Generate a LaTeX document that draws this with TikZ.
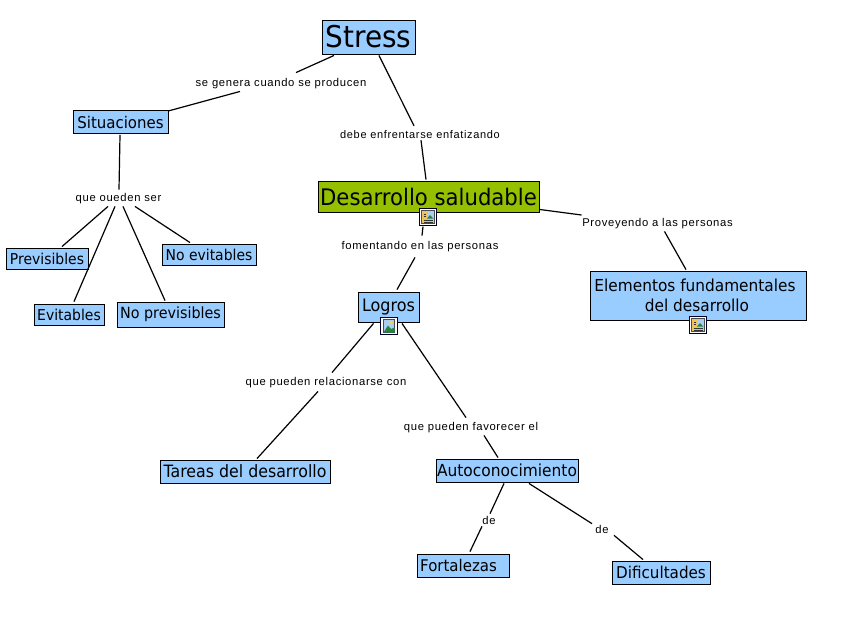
\documentclass[tikz,border=0pt]{standalone}
\usepackage{fontspec}
\setmainfont[FakeStretch=0.93]{DejaVu Sans}
\newfontfamily\lblfont[LetterSpace=6]{Liberation Sans}
\tikzset{
  x=1pt,y=-1pt,
  concept/.style={draw=black,line width=0.9pt,fill=#1,inner sep=0pt,anchor=center,align=center,text=black},
  concept/.default=cblue,
  lbl/.style={inner sep=0pt,font=\lblfont\fontsize{11.25}{13}\selectfont,text=black},
  link/.style={draw=black,line width=1.2pt},
  iconbox/.style={draw=black!85!blue,fill=white,line width=1.2pt,minimum size=17pt,inner sep=0pt}
}
\definecolor{cblue}{RGB}{153,204,255}
\definecolor{cgreen}{RGB}{148,192,0}
\definecolor{cdoc}{RGB}{240,195,90}
\definecolor{csky}{RGB}{170,205,240}
\definecolor{chill}{RGB}{40,130,70}
\definecolor{csun}{RGB}{245,215,70}
\newcommand{\docicon}[2]{%
  \node[iconbox] (#1) at (#2) {};
  \fill[cdoc,draw=black!70,line width=.4pt] ([shift={(-6.5,-6.5)}]#1.center) rectangle ([shift={(6.5,6.5)}]#1.center);
  \fill[csky] ([shift={(-1,-5.5)}]#1.center) rectangle ([shift={(5.5,1.5)}]#1.center);
  \fill[chill] ([shift={(-1,1.5)}]#1.center) -- ([shift={(2,-2)}]#1.center) -- ([shift={(5.5,1.5)}]#1.center) -- cycle;
  \draw[black!80,line width=.6pt] ([shift={(-4.5,-3)}]#1.center) -- ([shift={(-2.5,-3)}]#1.center)
     ([shift={(-4.5,-0.5)}]#1.center) -- ([shift={(-2.5,-0.5)}]#1.center)
     ([shift={(-4.5,3)}]#1.center) -- ([shift={(4.5,3)}]#1.center)
     ([shift={(-4.5,5)}]#1.center) -- ([shift={(4.5,5)}]#1.center);
}
\newcommand{\picicon}[2]{%
  \node[iconbox] (#1) at (#2) {};
  \fill[csky,draw=black!70,line width=.4pt] ([shift={(-5.5,-6.5)}]#1.center) rectangle ([shift={(5.5,6.5)}]#1.center);
  \fill[chill] ([shift={(-5.5,6.5)}]#1.center) -- ([shift={(-1,-0.5)}]#1.center) -- ([shift={(2,3)}]#1.center) -- ([shift={(5.5,1.5)}]#1.center) -- ([shift={(5.5,6.5)}]#1.center) -- cycle;
  \fill[csun] ([shift={(2,-3.5)}]#1.center) circle (1.8pt);
}
\begin{document}
\begin{tikzpicture}
\useasboundingbox (0,0) rectangle (846,625);
\fill[white] (0,0) rectangle (846,625);
% concepts
\node[concept,minimum width=93pt,minimum height=34pt,font=\fontsize{30}{32}\selectfont] (stress) at (368.5,37) {\raisebox{-1pt}{Stress}};
\node[concept,minimum width=95pt,minimum height=23pt,font=\fontsize{16.1}{18}\selectfont] (sit) at (120.5,122) {\raisebox{-.5pt}{Situaciones}};
\node[concept=cgreen,minimum width=221pt,minimum height=31pt,font=\fontsize{22.8}{26}\selectfont] (des) at (428.5,196.5) {Desarrollo saludable};
\node[concept,minimum width=61pt,minimum height=30pt,font=\fontsize{17.2}{18}\selectfont] (log) at (388.5,307) {\raisebox{-.5pt}{Logros}};
\node[concept,minimum width=216pt,minimum height=49pt,font=\fontsize{16.5}{20.5}\selectfont] (ele) at (698,295.5) {Elementos fundamentales\kern6pt\\\kern-2pt del desarrollo};
\node[concept,minimum width=82pt,minimum height=21pt,font=\fontsize{15}{18}\selectfont] (pre) at (47,258.5) {\raisebox{-.5pt}{Previsibles}};
\node[concept,minimum width=70pt,minimum height=21pt,font=\fontsize{15}{18}\selectfont] (evi) at (69,314.5) {\raisebox{-.5pt}{Evitables}};
\node[concept,minimum width=107pt,minimum height=25pt,font=\fontsize{15.4}{18}\selectfont] (nop) at (170.5,314.5) {\raisebox{.5pt}{No previsibles}};
\node[concept,minimum width=94pt,minimum height=21pt,font=\fontsize{15}{18}\selectfont] (noe) at (209,254.5) {No evitables};
\node[concept,minimum width=170pt,minimum height=23pt,font=\fontsize{17}{18}\selectfont] (tar) at (245,471.5) {Tareas del desarrollo};
\node[concept,minimum width=142pt,minimum height=23pt,font=\fontsize{16.6}{18}\selectfont] (aut) at (507,470.5) {Autoconocimiento};
\node[concept,minimum width=92pt,minimum height=23pt,font=\fontsize{16.1}{18}\selectfont] (for) at (463,565.5) {Fortalezas\kern9pt};
\node[concept,minimum width=98pt,minimum height=23pt,font=\fontsize{16.3}{18}\selectfont] (dif) at (661,572.5) {Dificultades};
% icons
\docicon{ic1}{428,217}
\picicon{ic2}{389,326}
\docicon{ic3}{698,325}
% linking phrases
\node[lbl] (l1) at (281,84) {se genera cuando se producen};
\node[lbl,font=\lblfont\fontsize{11}{13}\selectfont] (l2) at (420,135) {debe enfrentarse enfatizando};
\node[lbl] (l3) at (118.5,199) {que oueden ser};
\node[lbl] (l4) at (420,247) {fomentando en las personas};
\node[lbl] (l5) at (657.5,224) {Proveyendo a las personas};
\node[lbl] (l6) at (326,383) {que pueden relacionarse con};
\node[lbl] (l7) at (471,428) {que pueden favorecer el};
\node[lbl] (l8) at (489,520) {de};
\node[lbl] (l9) at (602,529) {de};
% connectors
\draw[link] ([shift={(-34.5,1)}]stress.south) -- ([shift={(15,-6)}]l1.north);
\draw[link] ([shift={(-41,2)}]l1.south) -- ([shift={(47.5,1)}]sit.north);
\draw[link] ([shift={(10.5,1)}]stress.south) -- ([shift={(-6,-5)}]l2.north);
\draw[link] ([shift={(1,1)}]l2.south) -- ([shift={(-2.5,-1)}]des.north);
\draw[link] ([shift={(-5,0.5)}]ic1.south) -- ([shift={(2,-6)}]l4.north);
\draw[link] ([shift={(-5,5)}]l4.south) -- ([shift={(8.5,-2)}]log.north);
\draw[link] ([shift={(0,-3)}]des.south east) -- ([shift={(-0.5,-9)}]l5.west);
\draw[link] ([shift={(7,2)}]l5.south) -- ([shift={(-12,-1)}]ele.north);
\draw[link] ([shift={(-0.5,1)}]sit.south) -- ([shift={(0.5,-4)}]l3.north);
\draw[link] ([shift={(-10.5,2)}]l3.south) -- ([shift={(15,-1)}]pre.north);
\draw[link] ([shift={(-3.5,2)}]l3.south) -- ([shift={(5,-2)}]evi.north);
\draw[link] ([shift={(4.5,2)}]l3.south) -- ([shift={(-5.5,-1)}]nop.north);
\draw[link] ([shift={(16.5,2)}]l3.south) -- ([shift={(-19,-1)}]noe.north);
\draw[link] ([shift={(-15,1)}]log.south) -- ([shift={(6,-5)}]l6.north);
\draw[link] ([shift={(-8,3)}]l6.south) -- ([shift={(12,-1)}]tar.north);
\draw[link] ([shift={(13.5,1)}]log.south) -- ([shift={(-5,-5)}]l7.north);
\draw[link] ([shift={(13,2)}]l7.south) -- ([shift={(-9,-1)}]aut.north);
\draw[link] ([shift={(-3,1)}]aut.south) -- ([shift={(1,-2)}]l8.north);
\draw[link] ([shift={(-7,2)}]l8.south) -- ([shift={(7,-2)}]for.north);
\draw[link] ([shift={(22,1)}]aut.south) -- ([shift={(-10,-1)}]l9.north);
\draw[link] ([shift={(12,2)}]l9.south) -- ([shift={(-18,-1)}]dif.north);
\end{tikzpicture}
\end{document}
